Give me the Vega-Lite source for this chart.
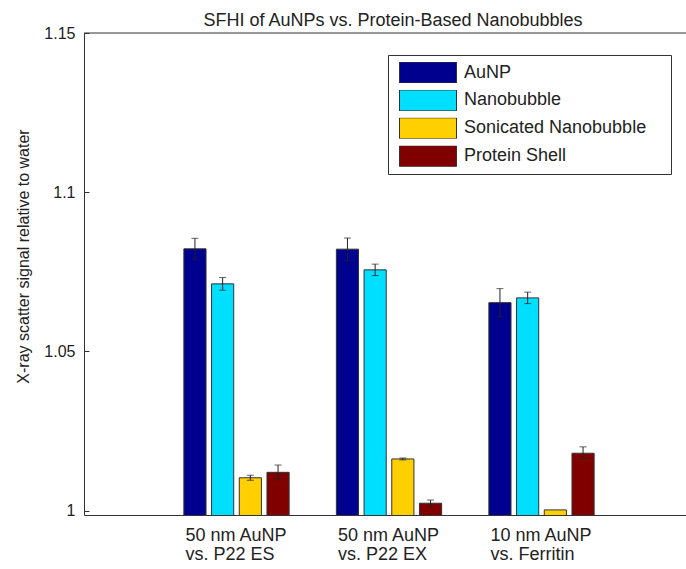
{
  "$schema": "https://vega.github.io/schema/vega-lite/v6.json",
  "width": 602,
  "height": 482,
  "autosize": {"type": "none"},
  "padding": {"left": 84, "top": 33, "right": 0, "bottom": 54},
  "background": "white",
  "config": {"view": {"stroke": null}, "font": "Liberation Sans"},
  "title": {"text": "SFHI of AuNPs vs. Protein-Based Nanobubbles", "fontSize": 18, "fontWeight": "normal", "color": "#222", "anchor": "middle", "frame": "group", "dx": 8, "offset": 0, "dy": 19, "baseline": "alphabetic"},
  "data": {"values": [
    {"pair": "50 nm AuNP\nvs. P22 ES", "series": "AuNP", "value": 1.0822, "lo": 1.0789, "hi": 1.0855},
    {"pair": "50 nm AuNP\nvs. P22 ES", "series": "Nanobubble", "value": 1.0712, "lo": 1.0692, "hi": 1.0732},
    {"pair": "50 nm AuNP\nvs. P22 ES", "series": "Sonicated Nanobubble", "value": 1.0103, "lo": 1.0095, "hi": 1.0111},
    {"pair": "50 nm AuNP\nvs. P22 ES", "series": "Protein Shell", "value": 1.0120, "lo": 1.0097, "hi": 1.0143},
    {"pair": "50 nm AuNP\nvs. P22 EX", "series": "AuNP", "value": 1.0821, "lo": 1.0786, "hi": 1.0856},
    {"pair": "50 nm AuNP\nvs. P22 EX", "series": "Nanobubble", "value": 1.0756, "lo": 1.0738, "hi": 1.0774},
    {"pair": "50 nm AuNP\nvs. P22 EX", "series": "Sonicated Nanobubble", "value": 1.0162, "lo": 1.0159, "hi": 1.0165},
    {"pair": "50 nm AuNP\nvs. P22 EX", "series": "Protein Shell", "value": 1.0023, "lo": 1.0013, "hi": 1.0033},
    {"pair": "10 nm AuNP\nvs. Ferritin", "series": "AuNP", "value": 1.0653, "lo": 1.0609, "hi": 1.0697},
    {"pair": "10 nm AuNP\nvs. Ferritin", "series": "Nanobubble", "value": 1.0668, "lo": 1.0650, "hi": 1.0686},
    {"pair": "10 nm AuNP\nvs. Ferritin", "series": "Sonicated Nanobubble", "value": 1.0002, "lo": null, "hi": null},
    {"pair": "10 nm AuNP\nvs. Ferritin", "series": "Protein Shell", "value": 1.0180, "lo": 1.0160, "hi": 1.0200}
  ]},
  "encoding": {
    "x": {"field": "pair", "type": "nominal", "sort": null,
      "scale": {"rangeMax": 610, "paddingInner": 0.2734, "paddingOuter": 0.6367},
      "axis": {"title": null, "labelExpr": "split(datum.label, '\\n')", "labelAngle": 0, "labelAlign": "left", "labelOffset": -51, "labelFontSize": 18, "labelLineHeight": 19.5, "labelPadding": 11, "labelColor": "#222", "ticks": false, "domainColor": "#333", "domainWidth": 1, "labelLimit": 0}},
    "xOffset": {"field": "series", "type": "nominal", "sort": ["AuNP", "Nanobubble", "Sonicated Nanobubble", "Protein Shell"], "scale": {"paddingInner": 0.2, "paddingOuter": 0.1}}
  },
  "layer": [
    {
      "mark": {"type": "bar", "stroke": "#333", "strokeWidth": 1, "clip": true},
      "encoding": {
        "y": {"field": "value", "type": "quantitative",
          "scale": {"domain": [0.9986, 1.15], "zero": false, "nice": false},
          "axis": {"values": [1, 1.05, 1.1, 1.15], "format": "~g", "grid": false, "labelFontSize": 16, "labelColor": "#222", "tickSize": -5, "tickColor": "#333", "labelPadding": 14, "domainColor": "#333", "domainWidth": 1,
            "title": "X-ray scatter signal relative to water", "titleFontSize": 16, "titleFontWeight": "normal", "titleColor": "#222", "titleX": -61, "titleY": 223, "titleAngle": -90, "titleAlign": "center", "titleBaseline": "middle"}},
        "color": {"field": "series", "type": "nominal",
          "scale": {"domain": ["AuNP", "Nanobubble", "Sonicated Nanobubble", "Protein Shell"], "range": ["#00008F", "#00DFFF", "#FFCF00", "#800000"]},
          "legend": {"orient": "none", "legendX": 304, "legendY": 22, "fillColor": "white", "strokeColor": "#333", "padding": 7, "cornerRadius": 0,
            "symbolType": "M-1,-0.368H1V0.368H-1Z", "symbolSize": 3249, "symbolStrokeColor": "#333", "symbolStrokeWidth": 1, "symbolOffset": 4, "symbolOpacity": 1,
            "labelOffset": 7, "labelFontSize": 18, "labelColor": "#222", "clipHeight": 21, "rowPadding": 6.9, "labelLimit": 0,
            "title": "\u00a0", "titleOrient": "right", "titlePadding": 18, "titleFontSize": 4, "titleColor": "rgba(0,0,0,0)"}}
      }
    },
    {
      "mark": {"type": "rule", "color": "#222", "strokeWidth": 1},
      "encoding": {"y": {"field": "lo", "type": "quantitative"}, "y2": {"field": "hi"}}
    },
    {
      "mark": {"type": "tick", "orient": "horizontal", "color": "#222", "size": 7, "thickness": 1},
      "encoding": {"y": {"field": "hi", "type": "quantitative"}}
    },
    {
      "mark": {"type": "tick", "orient": "horizontal", "color": "#222", "size": 7, "thickness": 1},
      "encoding": {"y": {"field": "lo", "type": "quantitative"}}
    },
    {
      "data": {"values": [{}]},
      "mark": {"type": "rule", "color": "#333", "strokeWidth": 1},
      "encoding": {"x": null, "xOffset": null, "y": {"datum": 1.15, "type": "quantitative"}}
    }
  ]
}
